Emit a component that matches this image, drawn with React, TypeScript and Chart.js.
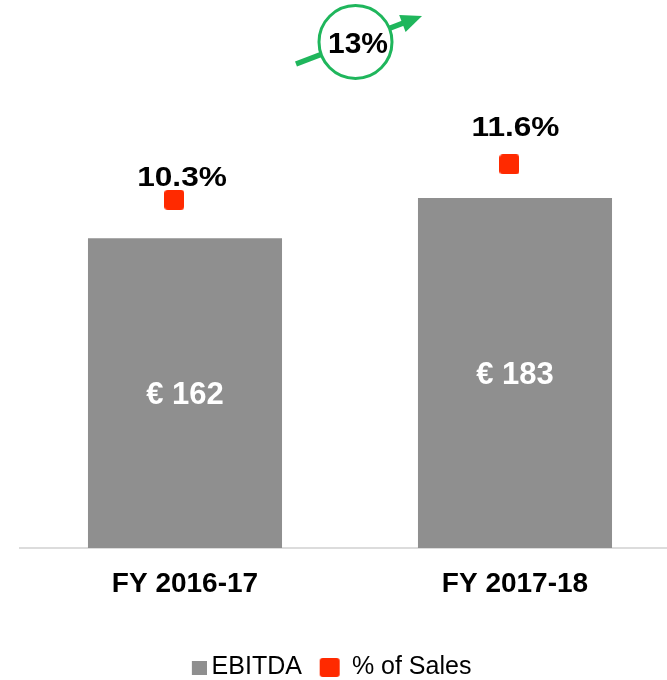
import React, { useEffect, useRef } from "react";
import { Chart, registerables } from "chart.js";

Chart.register(...registerables);

const categories = ["FY 2016-17", "FY 2017-18"];
const ebitda = [162, 183];
const pctSales = [10.3, 11.6];
const pctLabels = ["10.3%", "11.6%"];
const ebitdaLabels = ["€ 162", "€ 183"];
const growthLabel = "13%";
const legendNames = ["EBITDA", "% of Sales"];

const FONT = "'Liberation Sans', Arial, Helvetica, sans-serif";
const GREY = "#8f8f8f";
const RED = "#ff2a00";
const GREEN = "#1fb65c";

function makeSquare(cw: number, ch: number, sx: number, sy: number, w: number, h: number, color: string, radius: number) {
  const c = document.createElement("canvas");
  c.width = cw;
  c.height = ch;
  const ctx = c.getContext("2d")!;
  ctx.fillStyle = color;
  ctx.beginPath();
  (ctx as any).roundRect(sx, sy, w, h, radius);
  ctx.fill();
  return c;
}

export default function App() {
  const ref = useRef<HTMLCanvasElement | null>(null);
  useEffect(() => {
    if (!ref.current) return;
    const redPt = makeSquare(20, 20, 0, 0, 20, 20, RED, 3.5);
    const redLegend = makeSquare(30, 19, 9, 0, 20, 19, RED, 3);
    const greyLegend = makeSquare(43, 14, 28, 0, 15, 14, GREY, 0);

    const labelPlugin = {
      id: "labels",
      afterDatasetsDraw(chart: any) {
        const ctx = chart.ctx;
        ctx.save();
        const barMeta = chart.getDatasetMeta(0);
        ctx.textAlign = "center";
        ctx.textBaseline = "middle";
        ctx.font = `bold 31px ${FONT}`;
        ctx.fillStyle = "#ffffff";
        barMeta.data.forEach((el: any, i: number) => {
          ctx.fillText(ebitdaLabels[i], el.x, (el.y + el.base) / 2 + 2);
        });
        const lineMeta = chart.getDatasetMeta(1);
        ctx.fillStyle = "#000000";
        ctx.font = `bold 27.5px ${FONT}`;
        const offs = [22.7, 36.7];
        const dx = [-3, 0.5];
        lineMeta.data.forEach((el: any, i: number) => {
          const bx = barMeta.data[i].x + dx[i];
          ctx.save();
          ctx.translate(bx, el.y - offs[i]);
          ctx.scale(1.15, 1);
          ctx.fillText(pctLabels[i], 0, 1);
          ctx.restore();
        });
        // growth arrow & circle
        ctx.strokeStyle = GREEN;
        ctx.fillStyle = GREEN;
        ctx.lineWidth = 5.5;
        ctx.beginPath();
        ctx.moveTo(296, 64);
        ctx.lineTo(406, 22);
        ctx.stroke();
        const ang = Math.atan2(16 - 64, 422 - 296);
        ctx.save();
        ctx.translate(422, 16);
        ctx.rotate(ang);
        ctx.beginPath();
        ctx.moveTo(0, 0);
        ctx.lineTo(-21, -9);
        ctx.lineTo(-21, 9);
        ctx.closePath();
        ctx.fill();
        ctx.restore();
        ctx.beginPath();
        ctx.arc(355.5, 42, 36.5, 0, Math.PI * 2);
        ctx.fillStyle = "#ffffff";
        ctx.fill();
        ctx.lineWidth = 3;
        ctx.strokeStyle = GREEN;
        ctx.stroke();
        ctx.fillStyle = "#000000";
        ctx.font = `bold 30px ${FONT}`;
        ctx.fillText(growthLabel, 358, 45);
        ctx.restore();
      },
    };

    const chart = new Chart(ref.current, {
      type: "bar",
      data: {
        labels: categories,
        datasets: [
          {
            type: "bar",
            label: legendNames[0],
            data: ebitda,
            backgroundColor: GREY,
            xAxisID: "x",
            yAxisID: "y",
            grouped: false,
            categoryPercentage: 1,
            barPercentage: 0.588,
            order: 2,
          } as any,
          {
            type: "line",
            label: legendNames[1],
            data: pctSales.map((v, i) => ({ x: i, y: v })),
            showLine: false,
            xAxisID: "x2",
            yAxisID: "y2",
            pointStyle: redPt as any,
            backgroundColor: RED,
            borderColor: RED,
            order: 1,
          } as any,
        ],
      },
      options: {
        animation: false,
        responsive: false,
        layout: { padding: { left: -42, right: 0, top: 70, bottom: -10 } },
        plugins: {
          legend: {
            position: "bottom",
            labels: {
              usePointStyle: true,
              pointStyleWidth: 27.5,
              color: "#000",
              font: { family: FONT, size: 25 },
              padding: 10,
              sort: (a: any, b: any) => a.datasetIndex - b.datasetIndex,
              generateLabels: (chart: any) => {
                const items = Chart.defaults.plugins.legend.labels.generateLabels(chart);
                items.forEach((it: any) => {
                  it.pointStyle = it.datasetIndex === 1 ? redLegend : greyLegend;
                });
                return items;
              },
            },
          },
          tooltip: { enabled: false },
        },
        scales: {
          x: {
            type: "category",
            grid: { display: false },
            border: { display: true, color: "#dcdcdc", width: 2 },
            ticks: {
              color: "#000",
              font: { family: FONT, size: 28, weight: "bold" },
              padding: 11,
            },
            afterFit: (s: any) => {
              s.height = 97;
            },
          },
          x2: {
            type: "linear",
            display: false,
            offset: false,
            grace: 0,
            min: -0.4603,
            max: 1.5087,
          },
          y: {
            display: true,
            min: 0,
            max: 250,
            grid: { display: false },
            border: { display: false },
            ticks: { display: false },
            afterFit: (s: any) => {
              s.width = 62;
            },
          },
          y2: {
            display: false,
            min: -2.444,
            max: 15.05,
          },
        },
      },
      plugins: [labelPlugin],
    });
    return () => chart.destroy();
  }, []);

  return (
    <div
      style={{
        position: "fixed",
        left: 0,
        top: 0,
        width: 667,
        height: 680,
        overflow: "hidden",
        background: "#fff",
      }}
    >
      <canvas ref={ref} width={685} height={680} />
    </div>
  );
}
